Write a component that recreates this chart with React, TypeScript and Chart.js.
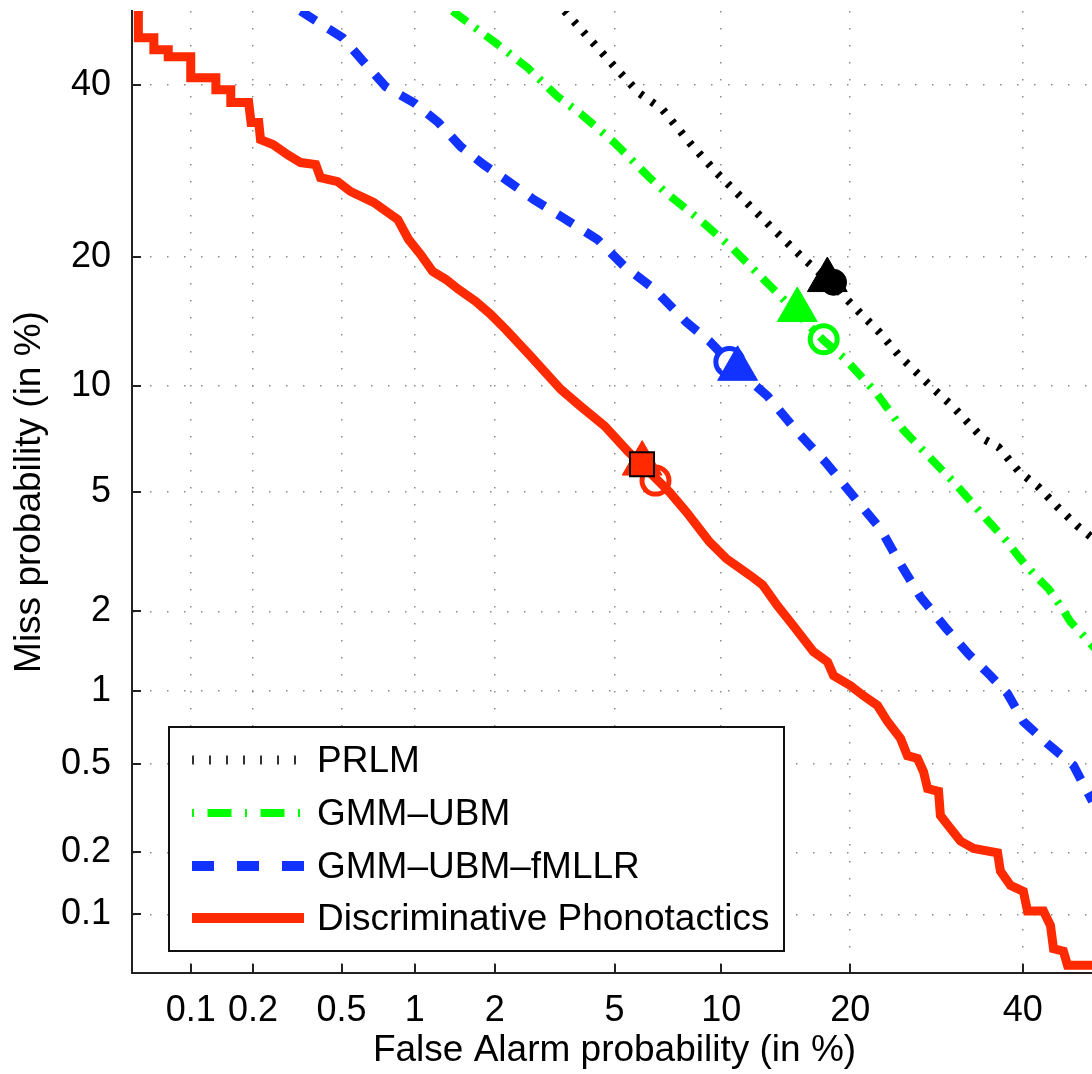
import React, { useEffect, useRef } from 'react';
import { Chart, registerables } from 'chart.js';

Chart.register(...registerables);

// ---------------- data (percent values) ----------------
const axisMinPct = 0.05;
const axisMaxPct = 50;
const xTickValues = [0.1, 0.2, 0.5, 1, 2, 5, 10, 20, 40];
const xTickLabels = ['0.1', '0.2', '0.5', '1', '2', '5', '10', '20', '40'];
const yTickValues = [0.1, 0.2, 0.5, 1, 2, 5, 10, 20, 40];
const yTickLabels = ['0.1', '0.2', '0.5', '1', '2', '5', '10', '20', '40'];

const seriesNames = ['PRLM', 'GMM\u2013UBM', 'GMM\u2013UBM\u2013fMLLR', 'Discriminative Phonotactics'];

// [false alarm %, miss %]
const prlmCurve: number[][] = [
  [3.472, 50], [4.995, 42.45], [5.901, 39.0], [6.93, 36.79], [8.239, 32.62], [9.724, 29.02],
  [11.21, 26.29], [13.28, 23.06], [15.93, 19.77], [18.17, 17.67], [20.9, 15.13], [22.91, 13.59],
  [25.04, 11.89], [28.51, 9.97], [31.23, 8.77], [34.92, 7.16], [36.85, 6.79], [39.44, 5.78],
  [42.07, 5.18], [44.63, 4.49], [47.33, 3.91], [50, 3.47],
];

const gmmUbmCurve: number[][] = [
  [1.399, 50], [2.013, 45.68], [2.609, 42.31], [3.295, 38.48], [3.911, 36.28], [4.995, 32.62],
  [6.31, 28.56], [7.064, 26.74], [8.766, 23.78], [10.76, 20.75], [12.08, 18.84], [14.03, 16.46],
  [17.55, 13.0], [19.55, 11.68], [22.6, 9.556], [25.47, 7.584], [28.05, 6.481], [31.35, 5.32],
  [35.31, 4.114], [37.87, 3.495], [39.71, 3.047], [41.69, 2.669], [43.43, 2.406], [45.05, 2.095],
  [46.39, 1.835], [48.15, 1.63], [50, 1.433],
];

const fmllrCurve: number[][] = [
  [0.331, 50], [0.393, 48.52], [0.505, 46.36], [0.619, 43.11], [0.765, 39.78], [0.991, 37.7],
  [1.237, 35.13], [1.501, 32.14], [1.823, 29.97], [2.188, 28.22], [2.737, 25.95], [3.423, 24.0],
  [4.425, 21.73], [5.357, 19.11], [6.525, 17.13], [8.076, 14.35], [9.324, 12.93], [10.63, 11.35],
  [13.07, 9.38], [15.36, 7.49], [17.73, 6.14], [20.52, 4.756], [23.02, 3.824], [24.93, 3.0],
  [27.36, 2.254], [30.39, 1.73], [33.05, 1.393], [35.81, 1.15], [38.0, 0.978], [40.09, 0.754],
  [43.29, 0.61], [46.8, 0.493], [49.38, 0.343],
];

const phonotacticsCurve: number[][] = [
  [0.054, 50], [0.054, 46.36], [0.065, 46.36], [0.065, 44.73], [0.077, 44.73], [0.077, 43.78],
  [0.1, 43.78], [0.1, 40.97], [0.133, 40.97], [0.133, 39.38], [0.157, 39.38], [0.157, 37.7],
  [0.191, 37.7], [0.196, 35.13], [0.213, 35.13], [0.217, 33.0], [0.248, 32.39], [0.289, 31.16],
  [0.331, 30.21], [0.386, 29.97], [0.405, 28.44], [0.481, 27.98], [0.546, 26.85], [0.682, 25.63],
  [0.856, 23.78], [0.945, 21.73], [1.054, 20.25], [1.174, 18.65], [1.318, 17.94], [1.475, 17.04],
  [1.705, 16.03], [1.934, 14.98], [2.188, 13.81], [2.672, 11.89], [3.371, 9.786], [3.911, 8.82],
  [4.658, 7.79], [5.509, 6.57], [6.057, 6.022], [7.245, 4.995], [8.076, 4.33], [9.324, 3.469],
  [10.33, 3.047], [11.88, 2.669], [12.71, 2.482], [13.8, 2.095], [15.04, 1.771], [16.68, 1.42],
  [17.91, 1.3], [18.45, 1.15], [20.03, 1.051], [21.29, 0.959], [22.71, 0.876], [23.75, 0.754],
  [25.15, 0.641], [25.9, 0.543], [27.03, 0.528], [27.71, 0.463], [28.17, 0.391], [29.45, 0.38],
  [29.67, 0.296], [30.85, 0.259], [32.08, 0.226], [33.69, 0.209], [36.73, 0.199], [37.09, 0.163],
  [38.4, 0.139], [40.09, 0.13], [40.63, 0.104], [42.76, 0.104], [43.7, 0.088], [44.1, 0.067],
  [45.44, 0.065], [45.99, 0.055], [50, 0.055],
];

// operating points, order: PRLM, GMM-UBM, GMM-UBM-fMLLR, Discriminative Phonotactics
const triangleMarkers: number[][] = [[17.89, 17.87], [15.34, 15.32], [11.02, 11.05], [6.045, 6.08]];
const circleMarkers: number[][] = [[18.45, 17.67], [17.57, 13.08], [10.5, 11.5], [6.61, 5.41]];
const squareMarkers: number[][] = [[6.04, 6.05]];

// ---------------- helpers ----------------
function probit(p: number): number {
  const a = [-3.969683028665376e1, 2.209460984245205e2, -2.759285104469687e2, 1.38357751867269e2, -3.066479806614716e1, 2.506628277459239];
  const b = [-5.447609879822406e1, 1.615858368580409e2, -1.556989798598866e2, 6.680131188771972e1, -1.328068155288572e1];
  const c = [-7.784894002430293e-3, -3.223964580411365e-1, -2.400758277161838, -2.549732539343734, 4.374664141464968, 2.938163982698783];
  const d = [7.784695709041462e-3, 3.224671290700398e-1, 2.445134137142996, 3.754408661907416];
  const plow = 0.02425;
  if (p < plow) {
    const q = Math.sqrt(-2 * Math.log(p));
    return (((((c[0] * q + c[1]) * q + c[2]) * q + c[3]) * q + c[4]) * q + c[5]) / ((((d[0] * q + d[1]) * q + d[2]) * q + d[3]) * q + 1);
  }
  if (p <= 1 - plow) {
    const q = p - 0.5;
    const r = q * q;
    return ((((((a[0] * r + a[1]) * r + a[2]) * r + a[3]) * r + a[4]) * r + a[5]) * q) / (((((b[0] * r + b[1]) * r + b[2]) * r + b[3]) * r + b[4]) * r + 1);
  }
  const q = Math.sqrt(-2 * Math.log(1 - p));
  return -(((((c[0] * q + c[1]) * q + c[2]) * q + c[3]) * q + c[4]) * q + c[5]) / ((((d[0] * q + d[1]) * q + d[2]) * q + d[3]) * q + 1);
}

const toPts = (arr: number[][]) => arr.map(([fa, miss]) => ({ x: probit(fa / 100), y: probit(miss / 100) }));

const BLACK = '#000000';
const GREEN = '#00ff00';
const BLUE = '#1232ff';
const RED = '#ff2a00';
const FONT = "'Liberation Sans', Arial, Helvetica, sans-serif";

const CANVAS_W = 1110;
const CANVAS_H = 1074;

const legendStyles = [
  { color: '#333333', width: 9, dash: [2, 15] },
  { color: GREEN, width: 8, dash: [2, 13.5, 24, 13.5] },
  { color: BLUE, width: 10, dash: [22, 23] },
  { color: RED, width: 10, dash: [] as number[] },
];

const innerTicksPlugin = {
  id: 'innerTicks',
  afterDraw(chart: any) {
    const { ctx, chartArea } = chart;
    const xs = chart.scales.x;
    const ys = chart.scales.y;
    ctx.save();
    ctx.strokeStyle = '#222';
    ctx.lineWidth = 2;
    ctx.beginPath();
    xTickValues.forEach((v) => {
      const px = Math.round(xs.getPixelForValue(probit(v / 100)));
      ctx.moveTo(px, chartArea.bottom);
      ctx.lineTo(px, chartArea.bottom - 9);
    });
    yTickValues.forEach((v) => {
      const py = Math.round(ys.getPixelForValue(probit(v / 100)));
      ctx.moveTo(chartArea.left, py);
      ctx.lineTo(chartArea.left + 9, py);
    });
    ctx.stroke();
    ctx.restore();
  },
};

const legendPlugin = {
  id: 'detLegend',
  afterDraw(chart: any) {
    const { ctx } = chart;
    const box = { l: 169, t: 727, r: 784, b: 951 };
    const rows = [760, 813, 866, 918];
    ctx.save();
    ctx.fillStyle = '#ffffff';
    ctx.fillRect(box.l, box.t, box.r - box.l, box.b - box.t);
    ctx.strokeStyle = '#111';
    ctx.lineWidth = 2;
    ctx.strokeRect(box.l, box.t, box.r - box.l, box.b - box.t);
    seriesNames.forEach((name, i) => {
      const st = legendStyles[i];
      ctx.save();
      ctx.strokeStyle = st.color;
      ctx.lineWidth = st.width;
      ctx.lineCap = 'butt';
      ctx.setLineDash(st.dash);
      ctx.beginPath();
      ctx.moveTo(192, rows[i]);
      ctx.lineTo(304, rows[i]);
      ctx.stroke();
      ctx.restore();
      ctx.fillStyle = '#000';
      ctx.font = `37px ${FONT}`;
      ctx.textBaseline = 'middle';
      ctx.textAlign = 'left';
      ctx.fillText(name, 317, rows[i] + 1.5);
    });
    ctx.restore();
  },
};

export default function App() {
  const ref = useRef<HTMLCanvasElement | null>(null);

  useEffect(() => {
    const canvas = ref.current;
    if (!canvas) return;
    Chart.defaults.font.family = FONT;
    Chart.defaults.color = '#000';

    const lineBase = { pointRadius: 0, fill: false, tension: 0, order: 10 } as any;

    const chart = new Chart(canvas, {
      type: 'line',
      data: {
        datasets: [
          {
            label: 'square',
            data: toPts(squareMarkers),
            showLine: false,
            pointStyle: 'rect',
            pointRadius: 17,
            pointBackgroundColor: RED,
            pointBorderColor: '#000',
            pointBorderWidth: 2,
            order: 1,
          },
          {
            label: 'triangles',
            data: toPts(triangleMarkers),
            showLine: false,
            pointStyle: 'triangle',
            pointRadius: 23,
            pointBackgroundColor: [BLACK, GREEN, BLUE, RED],
            pointBorderColor: [BLACK, GREEN, BLUE, RED],
            pointBorderWidth: 1,
            order: 2,
          },
          {
            label: 'circles',
            data: toPts(circleMarkers),
            showLine: false,
            pointStyle: 'circle',
            pointRadius: [13, 13.5, 13.5, 13.5],
            pointBackgroundColor: [BLACK, 'rgba(0,0,0,0)', 'rgba(0,0,0,0)', 'rgba(0,0,0,0)'],
            pointBorderColor: [BLACK, GREEN, BLUE, RED],
            pointBorderWidth: [1, 5, 5, 5],
            order: 3,
          },
          {
            ...lineBase,
            label: seriesNames[3],
            data: toPts(phonotacticsCurve),
            borderColor: RED,
            borderWidth: 9,
          },
          {
            ...lineBase,
            label: seriesNames[2],
            data: toPts(fmllrCurve),
            borderColor: BLUE,
            borderWidth: 9,
            borderDash: [18, 15],
          },
          {
            ...lineBase,
            label: seriesNames[1],
            data: toPts(gmmUbmCurve),
            borderColor: GREEN,
            borderWidth: 8,
            borderDash: [18, 10, 3, 10],
          },
          {
            ...lineBase,
            label: seriesNames[0],
            data: toPts(prlmCurve),
            borderColor: BLACK,
            borderWidth: 8,
            borderDash: [3.5, 10.5],
          },
        ],
      },
      options: {
        animation: false,
        responsive: false,
        events: [],
        layout: { autoPadding: false, padding: { top: 11, right: CANVAS_W - 1097, bottom: 0, left: 0 } },
        plugins: { legend: { display: false }, tooltip: { enabled: false } },
        scales: {
          x: {
            type: 'linear',
            min: probit(axisMinPct / 100),
            max: probit(axisMaxPct / 100),
            afterBuildTicks: (s: any) => {
              s.ticks = xTickValues.map((v) => ({ value: probit(v / 100) }));
            },
            afterFit: (s: any) => {
              s.height = 101;
              s.paddingLeft = 0;
              s.paddingRight = 0;
            },
            ticks: {
              autoSkip: false,
              maxRotation: 0,
              minRotation: 0,
              padding: 16,
              color: '#000',
              font: { size: 36 },
              callback: (_v: any, i: number) => xTickLabels[i],
            },
            grid: { display: true, drawOnChartArea: true, drawTicks: false, color: '#8c8c8c', lineWidth: 1.5 },
            border: { display: true, color: '#222', width: 2, dash: [1.5, 15.5] },
            title: {
              display: true,
              text: 'False Alarm probability (in %)',
              color: '#000',
              font: { size: 37 },
              padding: { top: 0, bottom: 1 },
            },
          },
          y: {
            type: 'linear',
            min: probit(axisMinPct / 100),
            max: probit(axisMaxPct / 100),
            afterBuildTicks: (s: any) => {
              s.ticks = yTickValues.map((v) => ({ value: probit(v / 100) }));
            },
            afterFit: (s: any) => {
              s.width = 132;
              s.paddingTop = 0;
              s.paddingBottom = 0;
            },
            ticks: {
              autoSkip: false,
              padding: 21,
              color: '#000',
              font: { size: 36, lineHeight: 0.5 },
              callback: (_v: any, i: number) => yTickLabels[i],
            },
            grid: { display: true, drawOnChartArea: true, drawTicks: false, color: '#8c8c8c', lineWidth: 1.5 },
            border: { display: true, color: '#222', width: 2, dash: [1.5, 15.5] },
            title: {
              display: true,
              text: 'Miss probability (in %)',
              color: '#000',
              font: { size: 37 },
              padding: { top: 8, bottom: 0 },
            },
          },
        },
      } as any,
      plugins: [innerTicksPlugin, legendPlugin],
    });
    return () => chart.destroy();
  }, []);

  return (
    <div
      style={{
        position: 'fixed',
        left: 0,
        top: 0,
        width: '1092px',
        height: '1074px',
        overflow: 'hidden',
        background: '#ffffff',
      }}
    >
      <canvas ref={ref} width={CANVAS_W} height={CANVAS_H} style={{ display: 'block' }} />
    </div>
  );
}
